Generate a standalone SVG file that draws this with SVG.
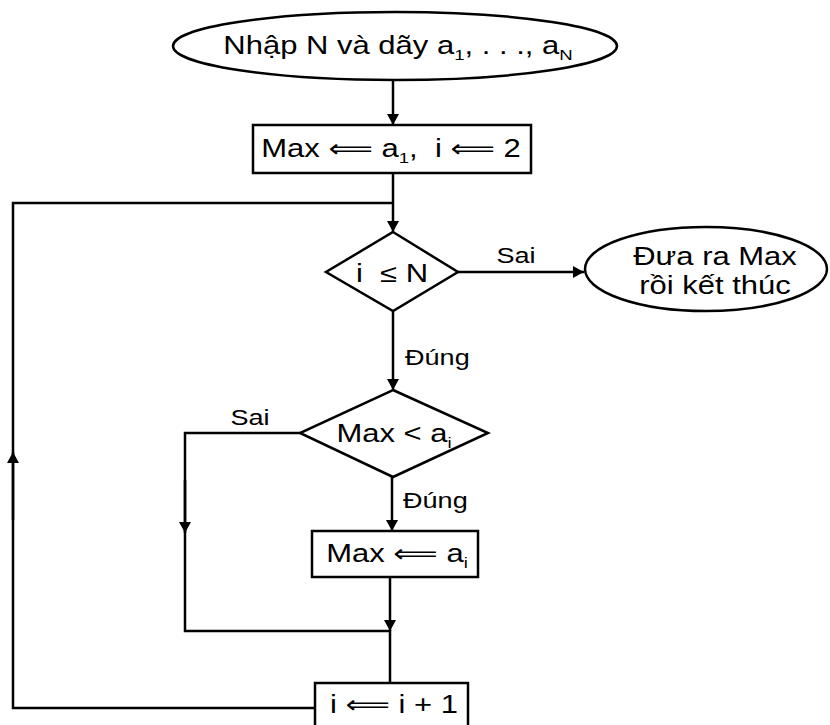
<svg xmlns="http://www.w3.org/2000/svg" width="830" height="725" viewBox="0 0 830 725">
<style>
.s{fill:none;stroke:#000;stroke-width:2.5}
.n{fill:#fff;stroke:#000;stroke-width:2.5}
.t{font-family:"Liberation Sans","DejaVu Sans",sans-serif;font-size:25px;fill:#000;text-anchor:middle}
.l{font-family:"Liberation Sans","DejaVu Sans",sans-serif;font-size:22px;fill:#000}
.sub{font-size:15px}
</style>
<defs>
<marker id="ah" markerWidth="12" markerHeight="12" refX="11" refY="6" orient="auto" markerUnits="userSpaceOnUse">
<path d="M0,0 L11,6 L0,12 Z" fill="#000"/>
</marker>
</defs>
<g id="connectors">
<path class="s" d="M393,80 V125" marker-end="url(#ah)"/>
<path class="s" d="M393,173 V232" marker-end="url(#ah)"/>
<path class="s" d="M458,272 H584" marker-end="url(#ah)"/>
<path class="s" d="M393,311 V390" marker-end="url(#ah)"/>
<path class="s" d="M392,477 V531" marker-end="url(#ah)"/>
<path class="s" d="M300,433 H185 V631 H390"/>
<path class="s" d="M185,480 V533" marker-end="url(#ah)"/>
<path class="s" d="M390,577 V631" marker-end="url(#ah)"/>
<path class="s" d="M390,630 V683"/>
<path class="s" d="M315,708 H13 V203 H393"/>
<path class="s" d="M13,520 V452" marker-end="url(#ah)"/>
<text class="l" transform="translate(516,263) scale(1.23,1)" text-anchor="middle">Sai</text>
<text class="l" transform="translate(405,365) scale(1.23,1)">Đúng</text>
<text class="l" transform="translate(250,425) scale(1.23,1)" text-anchor="middle">Sai</text>
<text class="l" transform="translate(403,508) scale(1.23,1)">Đúng</text>
</g>
<g id="start">
<ellipse class="n" cx="395" cy="46" rx="222" ry="34"/>
<text class="t" transform="translate(398,54) scale(1.24,1)">Nhập N và dãy a<tspan class="sub" dy="6">1</tspan><tspan dy="-6">, . . ., a</tspan><tspan class="sub" dy="6">N</tspan></text>
</g>
<g id="init">
<rect class="n" x="253" y="125" width="278" height="48"/>
<text class="t" transform="translate(391,157) scale(1.24,1)">Max ⟸ a<tspan class="sub" dy="6">1</tspan><tspan dy="-6">,&#160; i ⟸ 2</tspan></text>
</g>
<g id="cond1">
<path class="n" d="M393,232 L458,272 L393,311 L326,272 Z"/>
<text class="t" transform="translate(392,282) scale(1.24,1)">i&#160; ≤ N</text>
</g>
<g id="end">
<ellipse class="n" cx="706" cy="269" rx="121" ry="42"/>
<text class="t" transform="translate(715,265) scale(1.24,1)">Đưa ra Max</text>
<text class="t" transform="translate(715,294) scale(1.24,1)">rồi kết thúc</text>
</g>
<g id="cond2">
<path class="n" d="M393,390 L488,433 L393,477 L300,433 Z"/>
<text class="t" transform="translate(394,442) scale(1.24,1)">Max &lt; a<tspan class="sub" dy="6">i</tspan></text>
</g>
<g id="assign">
<rect class="n" x="312" y="531" width="166" height="46"/>
<text class="t" transform="translate(397,562) scale(1.24,1)">Max ⟸ a<tspan class="sub" dy="6">i</tspan></text>
</g>
<g id="inc">
<rect class="n" x="315" y="683" width="153" height="60"/>
<text class="t" transform="translate(394,713) scale(1.24,1)">i ⟸ i + 1</text>
</g>
</svg>
